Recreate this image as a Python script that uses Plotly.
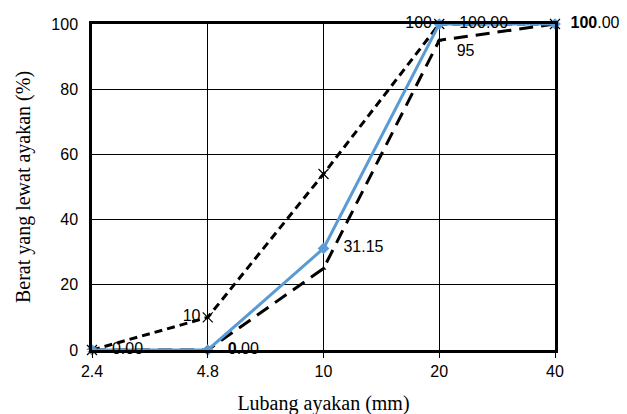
import plotly.graph_objects as go

sieve = ["2.4", "4.8", "10", "20", "40"]
upper = [0, 10, 54, 100, 100]
lower = [0, 0, 25, 95, 100]
passing = [0.00, 0.00, 31.15, 100.00, 100.00]

upper_labels = ["", "10", "", "100", ""]
lower_labels = ["", "", "", "   95", ""]
pass_labels = ["   0.00", "   <b>0</b>.00", "   31.15", "   100.00", "  <b>100</b>.00"]

fig = go.Figure()

fig.add_trace(go.Scatter(
    x=sieve, y=lower, mode="lines+markers+text",
    line=dict(color="black", width=3, dash="14px,8px"),
    marker=dict(symbol="triangle-up", size=5, color="black"),
    text=lower_labels, textposition="bottom right",
    textfont=dict(family="Liberation Sans", size=16, color="black"),
    cliponaxis=False, showlegend=False))

fig.add_trace(go.Scatter(
    x=sieve, y=upper, mode="lines+markers+text",
    line=dict(color="black", width=3, dash="8px,5px"),
    marker=dict(symbol="x-thin", size=10, line=dict(color="black", width=1.2)),
    text=upper_labels, textposition="middle left",
    textfont=dict(family="Liberation Sans", size=16, color="black"),
    cliponaxis=False, showlegend=False))

fig.add_trace(go.Scatter(
    x=sieve, y=passing, mode="lines+markers+text",
    line=dict(color="#5B9BD5", width=3),
    marker=dict(symbol="diamond", size=9, color="#5B9BD5"),
    text=pass_labels, textposition="middle right",
    textfont=dict(family="Liberation Sans", size=16, color="black"),
    cliponaxis=False, showlegend=False))

fig.update_layout(
    width=627, height=414,
    margin=dict(l=84, r=80, t=8, b=72),
    plot_bgcolor="white", paper_bgcolor="white",
    xaxis=dict(type="category", range=[0, 4], showgrid=True, gridcolor="black", gridwidth=1,
               showline=True, linecolor="black", linewidth=2.5, mirror=True,
               ticks="outside", ticklen=5, tickcolor="black",
               tickfont=dict(family="Liberation Sans", size=16, color="black"),
               title=dict(text="Lubang ayakan (mm)", standoff=18,
                          font=dict(family="Liberation Serif", size=20, color="black"))),
    yaxis=dict(range=[0, 100], dtick=20, showgrid=True, gridcolor="black", gridwidth=1,
               showline=True, linecolor="black", linewidth=2.5, mirror=True, zeroline=False,
               ticks="outside", ticklen=8, tickcolor="white",
               tickfont=dict(family="Liberation Sans", size=16, color="black"),
               title=dict(text="Berat yang lewat ayakan (%)", standoff=16,
                          font=dict(family="Liberation Serif", size=20, color="black"))),
)

fig.write_html("out.html")
